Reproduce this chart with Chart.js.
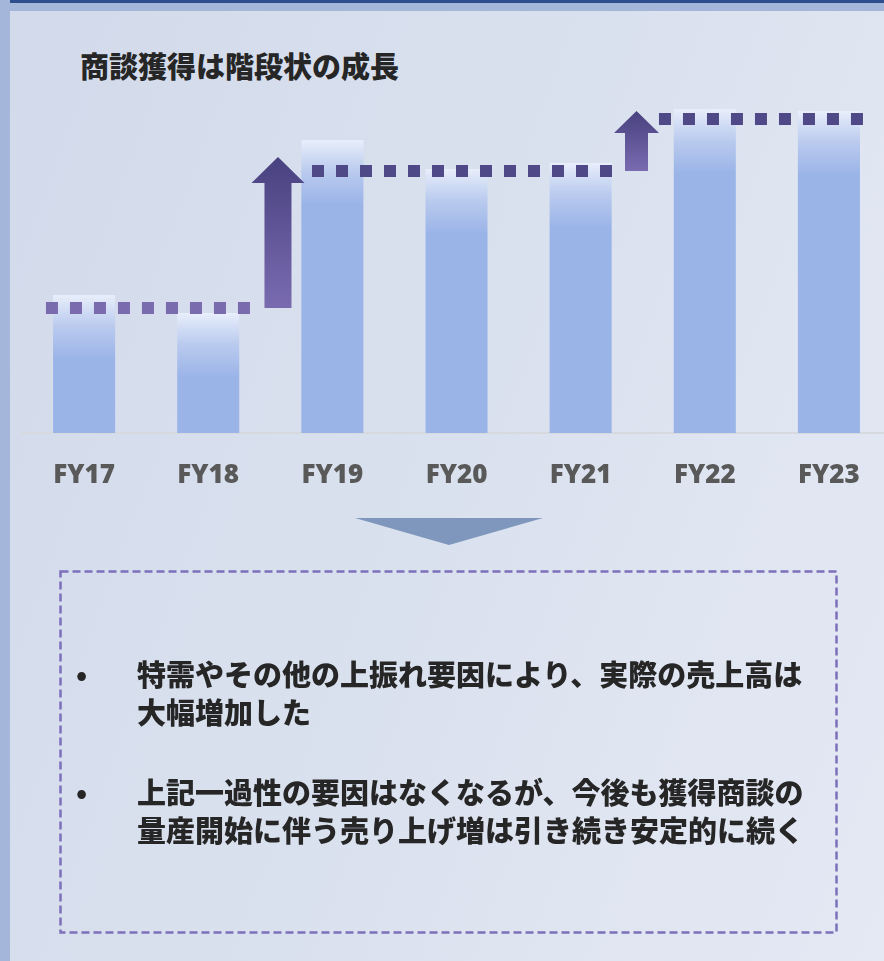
<!DOCTYPE html>
<html lang="ja">
<head>
<meta charset="utf-8">
<title>商談獲得は階段状の成長</title>
<script src="https://cdn.jsdelivr.net/npm/chart.js@4.4.0/dist/chart.umd.min.js"></script>
<style>
  html, body { margin: 0; padding: 0; }
  body {
    width: 884px; height: 961px; overflow: hidden; position: relative;
    background: linear-gradient(110deg, #d2daeb 0%, #dae1ee 50%, #e4e9f4 100%);
    font-family: "Noto Sans CJK JP", "Noto Sans", sans-serif;
  }
  #leftBar { position: absolute; left: 0; top: 0; width: 10px; height: 961px; background: #a4b7db; }
  #topBar { position: absolute; left: 10px; top: 0; width: 874px; height: 3px; background: #2d4e8c; }
  #topBar2 { position: absolute; left: 10px; top: 3px; width: 874px; height: 8px; background: #a4b7db; }
  #title {
    position: absolute; left: 80px; top: 46px;
    font-size: 29px; line-height: 38px; font-weight: 900; color: #262626;
  }
  #chartBox { position: absolute; left: 10px; top: 11px; width: 884px; height: 482px; }
  #deco { position: absolute; left: 0; top: 0; }
  .dot { position: absolute; left: 76px; font-size: 28px; line-height: 38px; font-weight: 900; color: #262626; }
  .point {
    position: absolute; left: 137px; font-size: 29px; line-height: 38px;
    font-weight: 900; color: #262626; white-space: nowrap;
  }
</style>
</head>
<body>
<div id="leftBar"></div>
<div id="topBar"></div>
<div id="topBar2"></div>
<div id="title">商談獲得は階段状の成長</div>
<div id="chartBox"><canvas id="stepChart"></canvas></div>

<svg id="deco" width="884" height="961">
  <polygon points="355,518 543,518 449,545" fill="#7f97bd"/>
  <rect x="60.5" y="571.5" width="776" height="361" fill="none"
        stroke="#7d70ba" stroke-width="2.5" stroke-dasharray="8 4"/>
</svg>

<div class="dot" style="top:654px;">•</div>
<div class="point" style="top:654px;">特需やその他の上振れ要因により、実際の売上高は<br>大幅増加した</div>
<div class="dot" style="top:772px;">•</div>
<div class="point" style="top:772px;">上記一過性の要因はなくなるが、今後も獲得商談の<br>量産開始に伴う売り上げ増は引き続き安定的に続く</div>

<script>
// chart values
const categories = ['FY17', 'FY18', 'FY19', 'FY20', 'FY21', 'FY22', 'FY23'];
const salesValues = [138, 120, 293, 264, 270, 324, 322];

// step levels: dotted lines, in category-index units along x
const stepLevels = [125, 262, 314];
const stepStarts = [-0.307, 1.836, 4.631];
const stepEnds = [1.337, 4.253, 6.275];

// up arrows between the steps
const arrowPositions = [1.562, 4.45];
const arrowFrom = [125, 262];
const arrowTo = [276, 322];

const stepColors = ['#7a6aae', '#4f4a87', '#4f4a87'];

const arrowPlugin = {
  id: 'stepArrows',
  afterDatasetsDraw(chart, args, opts) {
    const { ctx } = chart;
    const xs = chart.scales.x2;
    const ys = chart.scales.y;
    arrowPositions.forEach((pos, i) => {
      const size = opts.sizes[i];
      const cx = xs.getPixelForValue(pos);
      const yBottom = ys.getPixelForValue(arrowFrom[i]);
      const yTip = ys.getPixelForValue(arrowTo[i]);
      const yHead = yTip + size.headLen;

      const grad = ctx.createLinearGradient(0, yTip, 0, yBottom);
      grad.addColorStop(0, '#48417f');
      grad.addColorStop(1, '#7a6bb0');

      ctx.save();
      ctx.fillStyle = grad;
      ctx.beginPath();
      ctx.moveTo(cx, yTip);
      ctx.lineTo(cx + size.head / 2, yHead);
      ctx.lineTo(cx + size.shaft / 2, yHead);
      ctx.lineTo(cx + size.shaft / 2, yBottom);
      ctx.lineTo(cx - size.shaft / 2, yBottom);
      ctx.lineTo(cx - size.shaft / 2, yHead);
      ctx.lineTo(cx - size.head / 2, yHead);
      ctx.closePath();
      ctx.fill();
      ctx.restore();
    });
  }
};

function barFill(c) {
  const chart = c.chart;
  if (!chart.chartArea || c.raw == null) return '#9bb4e8';
  const top = chart.scales.y.getPixelForValue(c.raw);
  const g = chart.ctx.createLinearGradient(0, top, 0, top + 64);
  g.addColorStop(0, '#e8eefb');
  g.addColorStop(0.5, '#b9caee');
  g.addColorStop(1, '#9bb4e8');
  return g;
}

const stepSets = stepLevels.map((level, i) => ({
  type: 'line',
  xAxisID: 'x2',
  data: [{ x: stepStarts[i], y: level }, { x: stepEnds[i], y: level }],
  borderColor: stepColors[i],
  borderWidth: 12,
  borderDash: [12, 12],
  borderCapStyle: 'butt',
  pointRadius: 0,
  fill: false,
  order: 0
}));

new Chart(document.getElementById('stepChart'), {
  type: 'bar',
  data: {
    labels: categories,
    datasets: [
      {
        label: '売上高',
        data: salesValues,
        backgroundColor: barFill,
        borderWidth: 0,
        grouped: false,
        barPercentage: 0.5,
        categoryPercentage: 1,
        order: 2
      },
      ...stepSets
    ]
  },
  options: {
    responsive: true,
    maintainAspectRatio: false,
    animation: false,
    layout: { padding: { top: 82, left: 12, right: 3, bottom: 0 } },
    plugins: {
      legend: { display: false },
      tooltip: { enabled: false },
      stepArrows: {
        sizes: [
          { shaft: 27, head: 53, headLen: 26 },
          { shaft: 23, head: 45, headLen: 22 }
        ]
      }
    },
    scales: {
      x: {
        grid: { display: false, drawTicks: false },
        border: { display: true, color: '#d6d9de', width: 2 },
        ticks: {
          color: '#595959',
          padding: 27,
          font: { family: 'Open Sans', size: 26, weight: 800 }
        },
        afterFit(scale) { scale.height = 60; }
      },
      x2: {
        type: 'linear', min: -0.5, max: 6.5, offset: false, display: false,
        grid: { offset: false }
      },
      y: { min: 0, max: 340, display: false }
    }
  },
  plugins: [arrowPlugin]
});
</script>
</body>
</html>
